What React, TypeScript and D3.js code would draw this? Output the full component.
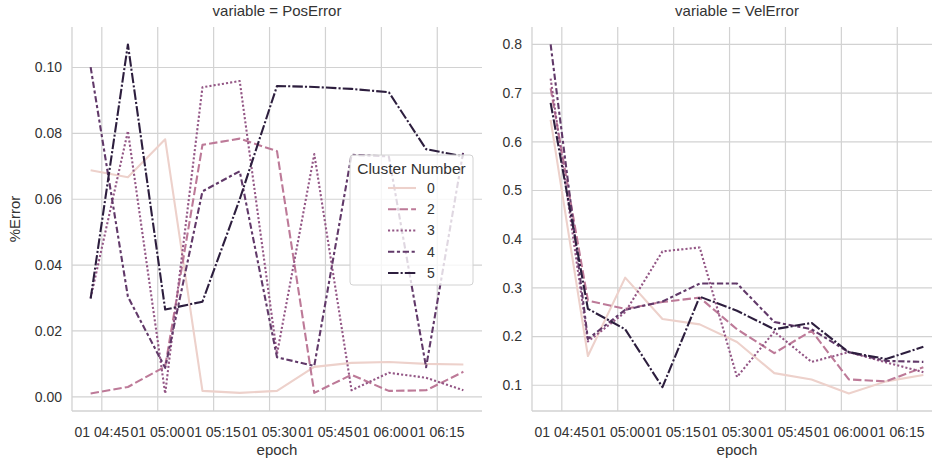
import { useEffect, useRef } from "react";
import * as d3 from "d3";

// sampling times (day 01)
const epochs = ["04:42", "04:52", "05:02", "05:12", "05:22", "05:32", "05:42", "05:52", "06:02", "06:12", "06:22"];
const clusters = [0, 2, 3, 4, 5];

const posError0 = [0.0688, 0.0667, 0.0782, 0.0018, 0.0012, 0.0018, 0.0091, 0.0103, 0.0106, 0.01, 0.0098];
const posError2 = [0.001, 0.003, 0.0092, 0.0765, 0.0784, 0.0746, 0.0012, 0.0067, 0.0018, 0.002, 0.0076];
const posError3 = [0.03, 0.0807, 0.001, 0.094, 0.0959, 0.013, 0.0737, 0.002, 0.0073, 0.0058, 0.002];
const posError4 = [0.1001, 0.0304, 0.0088, 0.0624, 0.0685, 0.012, 0.0094, 0.0735, 0.073, 0.009, 0.0746];
const posError5 = [0.0298, 0.107, 0.0265, 0.0289, 0.06, 0.0944, 0.0941, 0.0935, 0.0925, 0.0752, 0.073];

const velError0 = [0.645, 0.16, 0.321, 0.236, 0.225, 0.189, 0.125, 0.112, 0.083, 0.108, 0.121];
const velError2 = [0.71, 0.274, 0.257, 0.271, 0.28, 0.215, 0.166, 0.212, 0.112, 0.108, 0.137];
const velError3 = [0.73, 0.19, 0.25, 0.375, 0.383, 0.117, 0.21, 0.148, 0.168, 0.147, 0.127];
const velError4 = [0.8, 0.195, 0.255, 0.272, 0.309, 0.309, 0.23, 0.215, 0.168, 0.15, 0.148];
const velError5 = [0.68, 0.257, 0.215, 0.096, 0.282, 0.253, 0.215, 0.228, 0.168, 0.154, 0.179];

const xTickTimes = ["04:45", "05:00", "05:15", "05:30", "05:45", "06:00", "06:15"];
const posTicks = [0, 0.02, 0.04, 0.06, 0.08, 0.1];
const velTicks = [0.1, 0.2, 0.3, 0.4, 0.5, 0.6, 0.7, 0.8];

// seaborn style dash patterns (in linewidth units)
const dashPatterns: Record<number, number[]> = {
  0: [],
  2: [4, 1.5],
  3: [1, 1],
  4: [3, 1.25, 1.5, 1.25],
  5: [5, 1, 1, 1],
};

const parse = d3.timeParse("%Y-%m-%d %H:%M");
const toDate = (t: string) => parse("2021-01-01 " + t) as Date;

// seaborn cubehelix_palette(as_cmap=True) colour for a value in [0,1]
function cubehelix(t: number) {
  const x = 0.85 - 0.7 * t;
  const a = (0.8 * x * (1 - x)) / 2;
  const phi = 2 * Math.PI * (0.4 * x);
  const c = Math.cos(phi);
  const s = Math.sin(phi);
  const clamp = (v: number) => Math.max(0, Math.min(1, v));
  const r = clamp(x + a * (-0.14861 * c + 1.78277 * s));
  const g = clamp(x + a * (-0.29227 * c - 0.90649 * s));
  const b = clamp(x + a * (1.97294 * c));
  return d3.rgb(r * 255, g * 255, b * 255).formatHex();
}

const FONT = "'Liberation Sans', Arial, sans-serif";
const TEXT = "#333333";
const GRID = "#d2d2d2";
const LW = 2.1;

function App() {
  const ref = useRef<SVGSVGElement>(null);

  useEffect(() => {
    const svg = d3.select(ref.current);
    svg.selectAll("*").remove();

    const width = 932;
    const height = 459;
    const top = 27;
    const bottom = 411;
    const panelW = 410;

    const dates = epochs.map(toDate);
    const color = (c: number) => cubehelix(c / 5);
    const dash = (c: number) => dashPatterns[c].map((d) => d * LW).join(",");

    const panels = [
      {
        title: "variable = PosError",
        left: 72,
        series: [posError0, posError2, posError3, posError4, posError5],
        ticks: posTicks,
        fmt: d3.format(".2f"),
        ylabel: "%Error",
      },
      {
        title: "variable = VelError",
        left: 532,
        series: [velError0, velError2, velError3, velError4, velError5],
        ticks: velTicks,
        fmt: d3.format(".1f"),
        ylabel: "",
      },
    ];

    const [t0, t1] = d3.extent(dates) as [Date, Date];
    const tPad = (+t1 - +t0) * 0.05;
    const tickFmt = d3.timeFormat("%d %H:%M");

    panels.forEach((p) => {
      const all = p.series.flat();
      const [lo, hi] = d3.extent(all) as [number, number];
      const pad = (hi - lo) * 0.05;

      const x = d3
        .scaleTime()
        .domain([new Date(+t0 - tPad), new Date(+t1 + tPad)])
        .range([p.left, p.left + panelW]);
      const y = d3.scaleLinear().domain([lo - pad, hi + pad]).range([bottom, top]);

      const g = svg.append("g");

      // grid
      g.selectAll(".hgrid")
        .data(p.ticks)
        .enter()
        .append("line")
        .attr("x1", p.left)
        .attr("x2", p.left + panelW)
        .attr("y1", (d) => y(d))
        .attr("y2", (d) => y(d))
        .attr("stroke", GRID)
        .attr("stroke-width", 1.2);

      g.selectAll(".vgrid")
        .data(xTickTimes.map(toDate))
        .enter()
        .append("line")
        .attr("x1", (d) => x(d))
        .attr("x2", (d) => x(d))
        .attr("y1", top)
        .attr("y2", bottom)
        .attr("stroke", GRID)
        .attr("stroke-width", 1.2);

      // spines
      g.append("line")
        .attr("x1", p.left)
        .attr("x2", p.left)
        .attr("y1", top)
        .attr("y2", bottom)
        .attr("stroke", GRID)
        .attr("stroke-width", 1.3);
      g.append("line")
        .attr("x1", p.left)
        .attr("x2", p.left + panelW)
        .attr("y1", bottom)
        .attr("y2", bottom)
        .attr("stroke", GRID)
        .attr("stroke-width", 1.3);

      // tick labels
      g.selectAll(".ylab")
        .data(p.ticks)
        .enter()
        .append("text")
        .attr("x", p.left - 10)
        .attr("y", (d) => y(d))
        .attr("dy", "0.35em")
        .attr("text-anchor", "end")
        .attr("font-family", FONT)
        .attr("font-size", 14)
        .attr("fill", TEXT)
        .text((d) => p.fmt(d));

      g.selectAll(".xlab")
        .data(xTickTimes.map(toDate))
        .enter()
        .append("text")
        .attr("x", (d) => x(d))
        .attr("y", 437)
        .attr("text-anchor", "middle")
        .attr("font-family", FONT)
        .attr("font-size", 14)
        .attr("fill", TEXT)
        .text((d) => tickFmt(d));

      g.append("text")
        .attr("x", p.left + panelW / 2)
        .attr("y", 455)
        .attr("text-anchor", "middle")
        .attr("font-family", FONT)
        .attr("font-size", 15)
        .attr("fill", TEXT)
        .text("epoch");

      g.append("text")
        .attr("x", p.left + panelW / 2)
        .attr("y", 16)
        .attr("text-anchor", "middle")
        .attr("font-family", FONT)
        .attr("font-size", 15)
        .attr("fill", TEXT)
        .text(p.title);

      if (p.ylabel) {
        g.append("text")
          .attr("transform", `translate(20,${(top + bottom) / 2}) rotate(-90)`)
          .attr("text-anchor", "middle")
          .attr("font-family", FONT)
          .attr("font-size", 15)
          .attr("fill", TEXT)
          .text(p.ylabel);
      }

      const line = d3
        .line<number>()
        .x((_, i) => x(dates[i]))
        .y((d) => y(d));

      p.series.forEach((vals, k) => {
        const c = clusters[k];
        g.append("path")
          .datum(vals)
          .attr("fill", "none")
          .attr("stroke", color(c))
          .attr("stroke-width", LW)
          .attr("stroke-dasharray", dash(c) || null)
          .attr("stroke-linejoin", "round")
          .attr("d", line);
      });
    });

    // legend
    const lg = svg.append("g");
    lg.append("rect")
      .attr("x", 350)
      .attr("y", 155)
      .attr("width", 123)
      .attr("height", 130)
      .attr("rx", 3)
      .attr("fill", "white")
      .attr("fill-opacity", 0.8)
      .attr("stroke", GRID)
      .attr("stroke-width", 1);
    lg.append("text")
      .attr("x", 411.5)
      .attr("y", 174)
      .attr("text-anchor", "middle")
      .attr("font-family", FONT)
      .attr("font-size", 15.5)
      .attr("fill", TEXT)
      .text("Cluster Number");
    const ly = d3.scalePoint<number>().domain(clusters).range([188, 273]);
    clusters.forEach((c) => {
      lg.append("line")
        .attr("x1", 388)
        .attr("x2", 416)
        .attr("y1", ly(c)!)
        .attr("y2", ly(c)!)
        .attr("stroke", color(c))
        .attr("stroke-width", LW)
        .attr("stroke-dasharray", dash(c) || null);
      lg.append("text")
        .attr("x", 427)
        .attr("y", ly(c)!)
        .attr("dy", "0.35em")
        .attr("font-family", FONT)
        .attr("font-size", 14)
        .attr("fill", TEXT)
        .text(String(c));
    });

    svg.attr("width", width).attr("height", height);
  }, []);

  return (
    <svg
      ref={ref}
      width={932}
      height={459}
      style={{ position: "absolute", left: 0, top: 0, background: "white" }}
    />
  );
}

export default App;
